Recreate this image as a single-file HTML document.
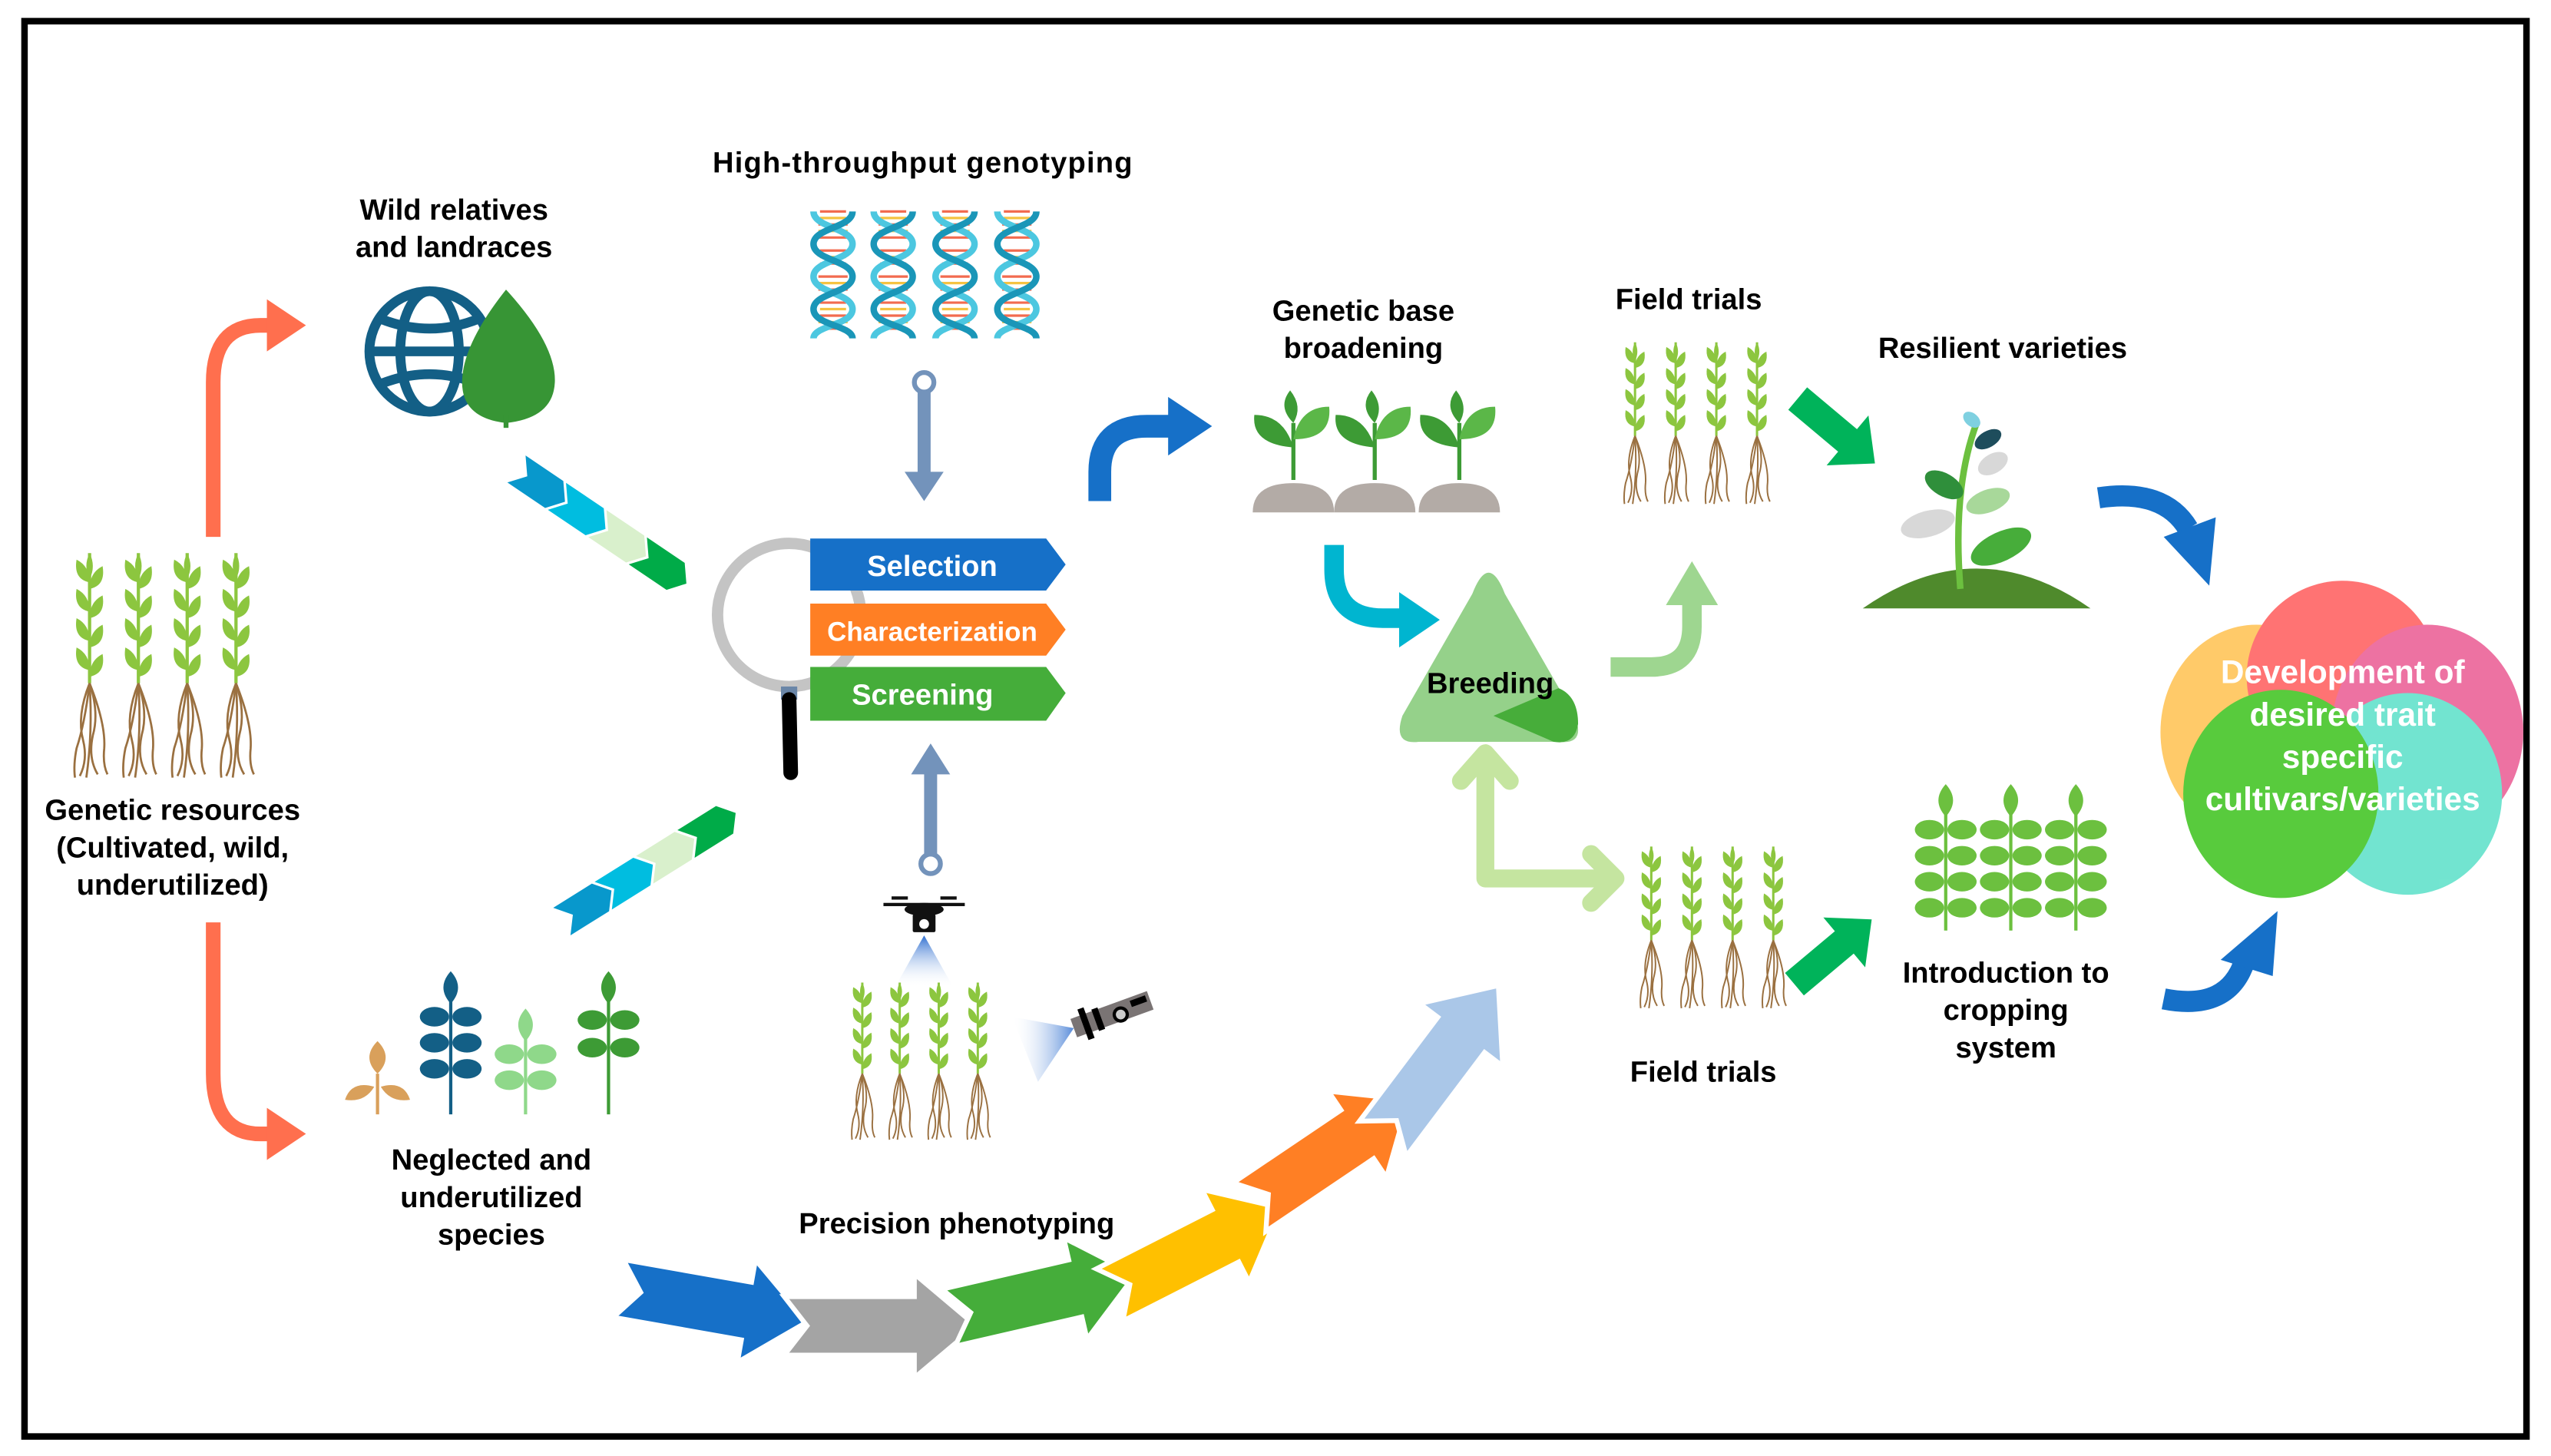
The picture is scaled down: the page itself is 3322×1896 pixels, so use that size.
<!DOCTYPE html>
<html><head><meta charset="utf-8"><style>
html,body{margin:0;padding:0;background:#fff}
svg{display:block}
text{font-family:"Liberation Sans",Arial,sans-serif;font-weight:bold}
</style></head><body>
<svg width="3322" height="1896" viewBox="0 0 1568 895" xmlns="http://www.w3.org/2000/svg">
<defs>
<symbol id="wheat" overflow="visible">
 <g>
 <path d="M0,0 V-80" stroke="#8cc63f" stroke-width="2" fill="none"/>
 <g fill="#8cc63f">
 <path d="M0,-80 q-4,8 0,16 q4,-8 0,-16z"/>
 <path d="M0,-62 q-10,-2 -8,-14 q8,4 8,14z"/><path d="M0,-58 q10,-2 8,-14 q-8,4 -8,14z"/>
 <path d="M0,-44 q-10,-2 -8,-14 q8,4 8,14z"/><path d="M0,-40 q10,-2 8,-14 q-8,4 -8,14z"/>
 <path d="M0,-26 q-10,-2 -8,-14 q8,4 8,14z"/><path d="M0,-22 q10,-2 8,-14 q-8,4 -8,14z"/>
 <path d="M0,-8 q-10,-2 -8,-14 q8,4 8,14z"/><path d="M0,-4 q10,-2 8,-14 q-8,4 -8,14z"/>
 </g>
 <g stroke="#9a7040" stroke-width="1.3" fill="none">
 <path d="M0,0 q-8,20 -4,35 q3,12 -2,22"/><path d="M0,0 q6,18 2,32 q-3,14 3,24"/>
 <path d="M0,0 q-3,25 -8,40 q-2,10 -1,18"/><path d="M0,0 q10,25 9,40 q-1,10 2,16"/>
 <path d="M0,0 q2,30 -2,58"/>
 </g></g>
</symbol>
<symbol id="seed" overflow="visible">
 <path d="M0,0 V-35" stroke="#3d9b35" stroke-width="2.5"/>
 <path d="M0,-20 q-26,-2 -24,-20 q18,0 24,20z" fill="#3d9b35"/>
 <path d="M0,-25 q24,0 22,-20 q-18,0 -22,20z" fill="#5bb748"/>
 <path d="M0,-35 q-10,-10 -2,-20 q8,10 2,20z" fill="#3d9b35"/>
 <path d="M-25,20 q0,-18 25,-18 q25,0 25,18z" fill="#b3aba6"/>
</symbol>
<symbol id="leafy" overflow="visible">
 <path d="M0,0 V-78" stroke="#6cc03f" stroke-width="2"/>
 <g fill="#6cc03f">
 <path d="M0,-90 q-9,10 0,20 q9,-10 0,-20z"/>
 <ellipse cx="-10" cy="-62" rx="9" ry="6"/><ellipse cx="10" cy="-62" rx="9" ry="6"/>
 <ellipse cx="-10" cy="-46" rx="9" ry="6"/><ellipse cx="10" cy="-46" rx="9" ry="6"/>
 <ellipse cx="-10" cy="-30" rx="9" ry="6"/><ellipse cx="10" cy="-30" rx="9" ry="6"/>
 <ellipse cx="-10" cy="-14" rx="9" ry="6"/><ellipse cx="10" cy="-14" rx="9" ry="6"/>
 </g>
</symbol>
<symbol id="dna" overflow="visible">
 <g stroke-width="1.5">
 <path d="M-8,0 H8 M-9,8 H9 M-9,16 H9 M-8,24 H8 M-8,32 H8 M-9,40 H9 M-9,48 H9 M-8,56 H8 M-8,64 H8 M-9,72 H9" stroke="#f26b4f"/>
 <path d="M-8,4 H8 M-9,12 H9 M-8,28 H8 M-9,44 H9 M-8,60 H8 M-9,68 H9" stroke="#f5c342"/>
 </g>
 <path d="M-12,0 C-12,10 12,10 12,20 C12,30 -12,30 -12,40 C-12,50 12,50 12,60 C12,70 -12,70 -12,78" stroke="#4cc7e0" stroke-width="4" fill="none"/>
 <path d="M12,0 C12,10 -12,10 -12,20 C-12,30 12,30 12,40 C12,50 -12,50 -12,60 C-12,70 12,70 12,78" stroke="#1a96b8" stroke-width="4" fill="none"/>
</symbol>
<path id="arr" d="M0,-18 L80,-18 L80,-32 L118,0 L80,32 L80,18 L0,18 L14,0 Z" stroke="#fff" stroke-width="3"/>
<linearGradient id="beam" x1="0" y1="0" x2="0" y2="1"><stop offset="0" stop-color="#2f6fd0"/><stop offset="1" stop-color="#fff" stop-opacity="0"/></linearGradient>
<linearGradient id="beam2" x1="1" y1="0" x2="0" y2="0"><stop offset="0" stop-color="#2f6fd0"/><stop offset="1" stop-color="#fff" stop-opacity="0"/></linearGradient>
</defs>

<rect x="0" y="0" width="1568" height="895" fill="#fff"/>
<rect x="15" y="13" width="1538" height="870" fill="none" stroke="#000" stroke-width="4"/>

<g font-size="18" fill="#000" text-anchor="middle">
<text x="567" y="106" textLength="258">High-throughput genotyping</text>
<text x="279" y="135">Wild relatives</text><text x="279" y="158">and landraces</text>
<text x="838" y="197">Genetic base</text><text x="838" y="220">broadening</text>
<text x="1038" y="190">Field trials</text>
<text x="1231" y="220">Resilient varieties</text>
<text x="106" y="504">Genetic resources</text><text x="106" y="527">(Cultivated, wild,</text><text x="106" y="550">underutilized)</text>
<text x="302" y="719">Neglected and</text><text x="302" y="742">underutilized</text><text x="302" y="765">species</text>
<text x="588" y="758">Precision phenotyping</text>
<text x="1047" y="665">Field trials</text>
<text x="1233" y="604">Introduction to</text><text x="1233" y="627">cropping</text><text x="1233" y="650">system</text>
</g>

<use href="#wheat" x="55" y="420"/><use href="#wheat" x="85" y="420"/><use href="#wheat" x="115" y="420"/><use href="#wheat" x="145" y="420"/>

<path d="M131,330 V235 Q131,200 160,200 H168" stroke="#ff6f4e" stroke-width="9" fill="none"/>
<polygon points="164,184 188,200 164,216" fill="#ff6f4e"/>
<path d="M131,567 V660 Q131,697 160,697 H168" stroke="#ff6f4e" stroke-width="9" fill="none"/>
<polygon points="164,681 188,697 164,713" fill="#ff6f4e"/>

<g stroke="#135f86" stroke-width="6" fill="none">
<circle cx="264" cy="216" r="37"/><ellipse cx="264" cy="216" rx="18" ry="37"/>
<path d="M228,216 H300 M234,196 Q264,208 294,196 M234,236 Q264,224 294,236"/>
</g>
<path d="M311,178 Q342,212 341,235 Q340,257 311,260 Q284,257 284,235 Q284,212 311,178z" fill="#379535"/>
<path d="M311,255 V263" stroke="#379535" stroke-width="3"/>

<g transform="translate(323,280) rotate(34)">
<polygon points="0,0 28,0 36,10 28,20 0,20 8,10" fill="#0898cc"/>
<polygon points="30,0 58,0 66,10 58,20 30,20 38,10" fill="#00bde0"/>
<polygon points="60,0 88,0 96,10 88,20 60,20 68,10" fill="#d9f0cc"/>
<polygon points="90,0 118,0 126,10 118,20 90,20 98,10" fill="#00ab48"/>
</g>
<g transform="translate(340,558) rotate(-32)">
<polygon points="0,0 28,0 36,10 28,20 0,20 8,10" fill="#0898cc"/>
<polygon points="30,0 58,0 66,10 58,20 30,20 38,10" fill="#00bde0"/>
<polygon points="60,0 88,0 96,10 88,20 60,20 68,10" fill="#d9f0cc"/>
<polygon points="90,0 118,0 126,10 118,20 90,20 98,10" fill="#00ab48"/>
</g>

<use href="#dna" x="512" y="130"/><use href="#dna" x="549" y="130"/><use href="#dna" x="587" y="130"/><use href="#dna" x="625" y="130"/>

<circle cx="568" cy="235" r="6" fill="none" stroke="#7393bb" stroke-width="3"/>
<rect x="564" y="240" width="8" height="52" fill="#7393bb"/>
<polygon points="556,290 580,290 568,308" fill="#7393bb"/>
<circle cx="572" cy="531" r="6" fill="none" stroke="#7393bb" stroke-width="3"/>
<rect x="568" y="474" width="8" height="52" fill="#7393bb"/>
<polygon points="560,476 584,476 572,457" fill="#7393bb"/>

<circle cx="485" cy="378" r="44" fill="none" stroke="#c4c4c4" stroke-width="7"/>
<rect x="480" y="422" width="10" height="8" fill="#6a86a8"/>
<path d="M485,430 L486,475" stroke="#000" stroke-width="9" stroke-linecap="round"/>

<polygon points="498,331 643,331 655,347 643,363 498,363" fill="#1670c8"/>
<polygon points="498,371 643,371 655,387 643,403 498,403" fill="#ff7f24"/>
<polygon points="498,410 643,410 655,426 643,443 498,443" fill="#45ad3a"/>
<g fill="#fff" font-size="18" text-anchor="middle">
<text x="573" y="354">Selection</text>
<text x="573" y="394" font-size="16.5">Characterization</text>
<text x="567" y="433">Screening</text>
</g>

<g fill="#111">
<rect x="543" y="555" width="50" height="2"/>
<rect x="548" y="551" width="10" height="2"/><rect x="578" y="551" width="10" height="2"/>
<ellipse cx="568" cy="559" rx="12" ry="4"/>
<rect x="561" y="562" width="14" height="11" rx="1"/>
<circle cx="568" cy="568" r="3" fill="#fff"/>
</g>
<polygon points="568,575 550,607 586,607" fill="url(#beam)"/>
<use href="#wheat" x="530" y="660" transform="translate(530,660) scale(0.7) translate(-530,-660)"/>
<use href="#wheat" x="553" y="660" transform="translate(553,660) scale(0.7) translate(-553,-660)"/>
<use href="#wheat" x="577" y="660" transform="translate(577,660) scale(0.7) translate(-577,-660)"/>
<use href="#wheat" x="601" y="660" transform="translate(601,660) scale(0.7) translate(-601,-660)"/>
<polygon points="660,632 622,625 638,665" fill="url(#beam2)" opacity="0.8"/>
<g transform="translate(660,632) rotate(-20)">
<rect x="0" y="-6" width="50" height="12" fill="#7a7474"/>
<rect x="6" y="-10" width="4" height="20" fill="#000"/><rect x="14" y="-7" width="4" height="14" fill="#000"/>
<circle cx="30" cy="2" r="4" fill="#ccc" stroke="#000" stroke-width="2"/>
<rect x="38" y="-4" width="10" height="4" fill="#000"/>
</g>

<use href="#arr" fill="#1670c8" transform="translate(380,792) rotate(10)"/>
<use href="#arr" fill="#a4a4a4" transform="translate(482,815) rotate(0)"/>
<use href="#arr" fill="#45ad3a" transform="translate(583,810) rotate(-13)"/>
<use href="#arr" fill="#ffc000" transform="translate(682,796) rotate(-27)"/>
<use href="#arr" fill="#ff7f24" transform="translate(768,742) rotate(-34)"/>
<use href="#arr" fill="#aac7e8" transform="translate(850,700) rotate(-53)"/>

<path d="M676,308 V290 Q676,262 705,262 H722" stroke="#1670c8" stroke-width="14" fill="none"/>
<polygon points="718,244 745,262 718,280" fill="#1670c8"/>

<use href="#seed" x="795" y="295"/><use href="#seed" x="845" y="295"/><use href="#seed" x="897" y="295"/>

<path d="M820,335 V350 Q820,380 850,380 H862" stroke="#00b5d0" stroke-width="12" fill="none"/>
<polygon points="860,364 885,381 860,398" fill="#00b5d0"/>

<path d="M915,352 Q920,352 925,365 L968,440 Q975,458 958,456 L872,456 Q856,458 862,440 L905,365 Q910,352 915,352z" fill="#95d18a"/>
<path d="M918,440 L958,423 Q970,428 970,445 Q968,458 955,456 Z" fill="#47ad3a"/>
<text x="916" y="426" font-size="18" text-anchor="middle" fill="#000">Breeding</text>

<path d="M990,410 H1015 Q1040,410 1040,385 V370" stroke="#9ed690" stroke-width="12" fill="none"/>
<polygon points="1024,372 1040,345 1056,372" fill="#9ed690"/>

<g stroke="#c5e5a0" stroke-width="11" fill="none" stroke-linecap="round" stroke-linejoin="round">
<path d="M913,465 V540 H985"/>
<path d="M898,480 L913,463 L928,480"/>
<path d="M978,525 L993,540 L978,555"/>
</g>

<use href="#wheat" x="1005" y="268" transform="translate(1005,268) scale(0.72) translate(-1005,-268)"/>
<use href="#wheat" x="1030" y="268" transform="translate(1030,268) scale(0.72) translate(-1030,-268)"/>
<use href="#wheat" x="1055" y="268" transform="translate(1055,268) scale(0.72) translate(-1055,-268)"/>
<use href="#wheat" x="1080" y="268" transform="translate(1080,268) scale(0.72) translate(-1080,-268)"/>
<use href="#wheat" x="1015" y="578" transform="translate(1015,578) scale(0.72) translate(-1015,-578)"/>
<use href="#wheat" x="1040" y="578" transform="translate(1040,578) scale(0.72) translate(-1040,-578)"/>
<use href="#wheat" x="1065" y="578" transform="translate(1065,578) scale(0.72) translate(-1065,-578)"/>
<use href="#wheat" x="1090" y="578" transform="translate(1090,578) scale(0.72) translate(-1090,-578)"/>

<g transform="translate(1105,245) rotate(40)">
<path d="M0,-9 H40 V-20 L62,0 L40,20 V9 H0Z" fill="#00b35a"/></g>
<g transform="translate(1103,605) rotate(-40)">
<path d="M0,-9 H40 V-20 L62,0 L40,20 V9 H0Z" fill="#00b35a"/></g>

<path d="M1145,374 Q1215,325 1285,374 Z" fill="#4f8a2c"/>
<path d="M1205,362 Q1200,300 1215,260" stroke="#6cc03f" stroke-width="4" fill="none"/>
<ellipse cx="1185" cy="322" rx="17" ry="8" fill="#d8d8d8" transform="rotate(-15 1185 322)"/>
<ellipse cx="1230" cy="336" rx="20" ry="9" fill="#47ad3a" transform="rotate(-25 1230 336)"/>
<ellipse cx="1195" cy="298" rx="13" ry="7" fill="#2f8f3b" transform="rotate(30 1195 298)"/>
<ellipse cx="1222" cy="308" rx="14" ry="7" fill="#a8d89a" transform="rotate(-20 1222 308)"/>
<ellipse cx="1225" cy="285" rx="10" ry="6" fill="#d8d8d8" transform="rotate(-30 1225 285)"/>
<ellipse cx="1222" cy="270" rx="9" ry="5" fill="#1e4d5c" transform="rotate(-30 1222 270)"/>
<ellipse cx="1212" cy="258" rx="6" ry="4" fill="#7fd0e0" transform="rotate(40 1212 258)"/>

<path d="M1290,306 Q1330,300 1345,325" stroke="#1670c8" stroke-width="13" fill="none"/>
<polygon points="1330,330 1362,318 1358,360" fill="#1670c8"/>
<path d="M1330,614 Q1370,622 1380,590" stroke="#1670c8" stroke-width="13" fill="none"/>
<polygon points="1365,590 1400,560 1397,600" fill="#1670c8"/>

<use href="#leafy" x="1196" y="572"/><use href="#leafy" x="1236" y="572"/><use href="#leafy" x="1276" y="572"/>

<g opacity="0.85">
<ellipse cx="1387" cy="450" rx="59" ry="66" fill="#ffc14f"/>
<ellipse cx="1440" cy="416" rx="59" ry="59" fill="#ff5b5b"/>
<ellipse cx="1492" cy="450" rx="59" ry="66" fill="#ea5a92"/>
<ellipse cx="1480" cy="488" rx="58" ry="62" fill="#5ae0c8"/>
<ellipse cx="1402" cy="488" rx="60" ry="64" fill="#3cc21c"/>
</g>
<g fill="#fff" font-size="20" text-anchor="middle">
<text x="1440" y="420">Development of</text>
<text x="1440" y="446">desired trait</text>
<text x="1440" y="472">specific</text>
<text x="1440" y="498">cultivars/varieties</text>
</g>

<g>
<path d="M232,685 V660" stroke="#d9a05b" stroke-width="2"/>
<path d="M232,640 q-10,10 0,20 q10,-10 0,-20z M230,668 q-14,-4 -18,8 q12,2 18,-8z M234,668 q14,-4 18,8 q-12,2 -18,-8z" fill="#d9a05b"/>
</g>
<g fill="#135f86"><path d="M277,685 V610" stroke="#135f86" stroke-width="2"/>
<path d="M277,597 q-9,10 0,20 q9,-10 0,-20z"/>
<ellipse cx="267" cy="625" rx="9" ry="6"/><ellipse cx="287" cy="625" rx="9" ry="6"/>
<ellipse cx="267" cy="641" rx="9" ry="6"/><ellipse cx="287" cy="641" rx="9" ry="6"/>
<ellipse cx="267" cy="657" rx="9" ry="6"/><ellipse cx="287" cy="657" rx="9" ry="6"/></g>
<g fill="#8fd88a"><path d="M323,685 V630" stroke="#8fd88a" stroke-width="2"/>
<path d="M323,620 q-9,10 0,20 q9,-10 0,-20z"/>
<ellipse cx="313" cy="648" rx="9" ry="6"/><ellipse cx="333" cy="648" rx="9" ry="6"/>
<ellipse cx="313" cy="664" rx="9" ry="6"/><ellipse cx="333" cy="664" rx="9" ry="6"/></g>
<g fill="#3d9b35"><path d="M374,685 V610" stroke="#3d9b35" stroke-width="2"/>
<path d="M374,597 q-9,10 0,20 q9,-10 0,-20z"/>
<ellipse cx="364" cy="627" rx="9" ry="6"/><ellipse cx="384" cy="627" rx="9" ry="6"/>
<ellipse cx="364" cy="644" rx="9" ry="6"/><ellipse cx="384" cy="644" rx="9" ry="6"/></g>
</svg>
</body></html>
